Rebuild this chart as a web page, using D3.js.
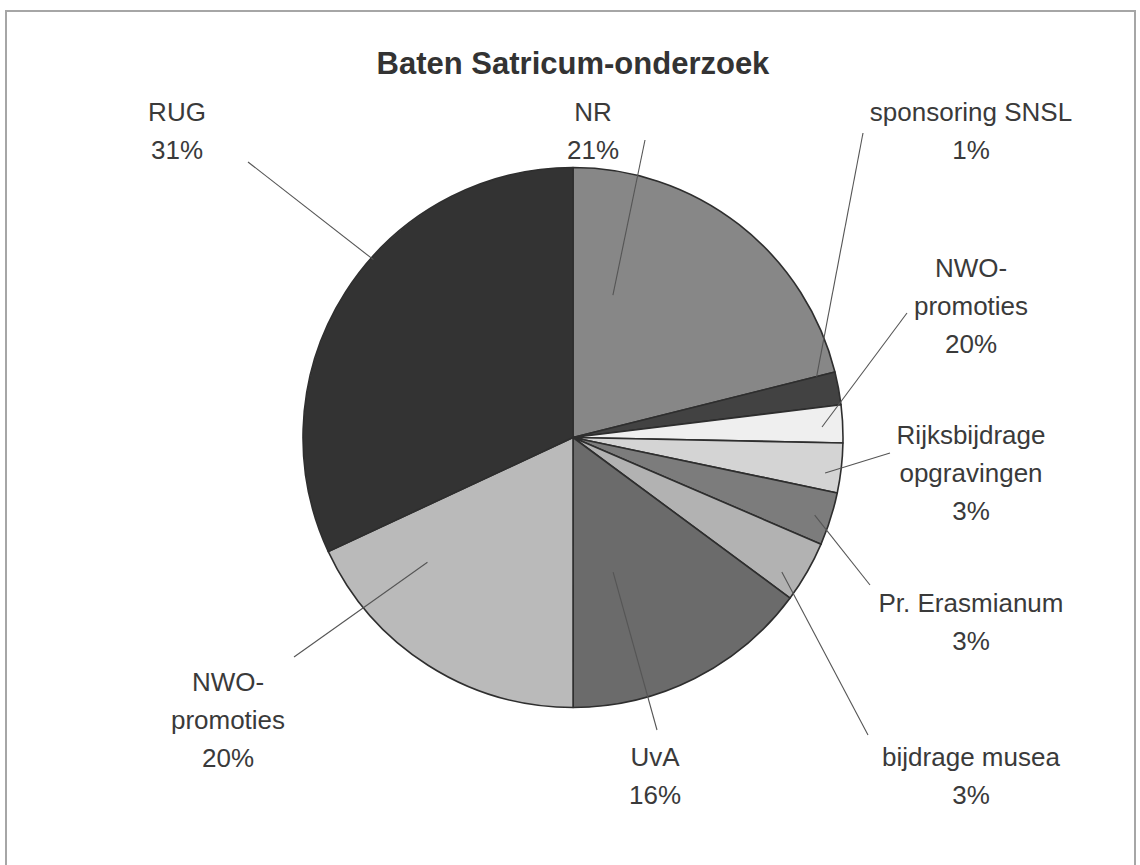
<!DOCTYPE html>
<html>
<head>
<meta charset="utf-8">
<script src="https://cdn.jsdelivr.net/npm/d3@7"></script>
<style>
  html, body { margin: 0; padding: 0; background: #fff; }
  svg { display: block; }
</style>
</head>
<body>
<svg id="chart" width="1140" height="865"></svg>
<script>
// ---- data ----
const categories = ["NR", "sponsoring SNSL", "NWO-promoties", "Rijksbijdrage opgravingen",
                    "Pr. Erasmianum", "bijdrage musea", "UvA", "NWO-promoties", "RUG"];
const values = [21.1, 1.96, 2.26, 2.97, 3.17, 3.67, 14.86, 18.06, 31.94];
const labelLines = [
  ["NR", "21%"],
  ["sponsoring SNSL", "1%"],
  ["NWO-", "promoties", "20%"],
  ["Rijksbijdrage", "opgravingen", "3%"],
  ["Pr. Erasmianum", "3%"],
  ["bijdrage musea", "3%"],
  ["UvA", "16%"],
  ["NWO-", "promoties", "20%"],
  ["RUG", "31%"]
];
const title = "Baten Satricum-onderzoek";

// ---- styles / layout (not data) ----
const colors = ["#878787", "#424242", "#efefef", "#d4d4d4", "#7c7c7c", "#b2b2b2", "#6b6b6b", "#bababa", "#333333"];
// label centre (first line) relative to pie centre
const labelPos = [[20, -325.5], [398, -325.5], [398, -169.5], [398, -2.5], [398, 165.5], [398, 319.5], [82, 319.5], [-345, 244.5], [-396, -325.5]];
// leader: outer end relative to centre, inner end as [fraction through slice angle, fraction of radius]
const leaderOuter = [[72, -297.5], [290, -304.5], [334, -124.5], [317, 15.5], [297, 147.5], [295, 297.5], [84, 292.5], [-279, 219.5], [-325, -275.5]];
const leaderInner = [[0.206, 0.548], [0.0, 0.93], [0.56, 0.923], [0.64, 0.943], [0.52, 0.94], [0.72, 0.92], [0.69, 0.52], [0.76, 0.71], [0.58, 0.99]];

const W = 1140, H = 865;
const cx = 573, cy = 437.5, R = 270;
const lineGap = 38;
const font = "'Liberation Sans', Arial, Helvetica, sans-serif";

const svg = d3.select("#chart");

// frame
svg.append("path")
  .attr("d", `M6,${H} L6,11 L1135,11 L1135,${H}`)
  .attr("fill", "none").attr("stroke", "#a6a6a6").attr("stroke-width", 2);

// title
svg.append("text")
  .attr("x", cx).attr("y", 74)
  .attr("text-anchor", "middle")
  .attr("font-family", font).attr("font-weight", "bold").attr("font-size", 31)
  .attr("fill", "#333").text(title);

const pie = d3.pie().sort(null).value(d => d)(values);
const arc = d3.arc().innerRadius(0).outerRadius(R);

const g = svg.append("g").attr("transform", `translate(${cx},${cy})`);

g.selectAll("path.slice").data(pie).join("path")
  .attr("class", "slice")
  .attr("d", arc)
  .attr("fill", (d, i) => colors[i])
  .attr("stroke", "#2e2e2e").attr("stroke-width", 1.6)
  .attr("stroke-linejoin", "round");

// leader lines
g.selectAll("line.leader").data(pie).join("line")
  .attr("class", "leader")
  .attr("x1", (d, i) => leaderOuter[i][0])
  .attr("y1", (d, i) => leaderOuter[i][1])
  .attr("x2", (d, i) => {
    const a = d.startAngle + leaderInner[i][0] * (d.endAngle - d.startAngle);
    return Math.sin(a) * R * leaderInner[i][1];
  })
  .attr("y2", (d, i) => {
    const a = d.startAngle + leaderInner[i][0] * (d.endAngle - d.startAngle);
    return -Math.cos(a) * R * leaderInner[i][1];
  })
  .attr("stroke", "#555").attr("stroke-width", 1.1);

// labels
const lbl = g.selectAll("text.lbl").data(pie).join("text")
  .attr("class", "lbl")
  .attr("text-anchor", "middle")
  .attr("font-family", font).attr("font-size", 26)
  .attr("fill", "#3a3a3a");
lbl.each(function(d, i) {
  const t = d3.select(this);
  labelLines[i].forEach((s, k) => {
    t.append("tspan")
      .attr("x", labelPos[i][0])
      .attr("y", labelPos[i][1] + k * lineGap)
      .attr("dy", "0.36em")
      .text(s);
  });
});
</script>
</body>
</html>
